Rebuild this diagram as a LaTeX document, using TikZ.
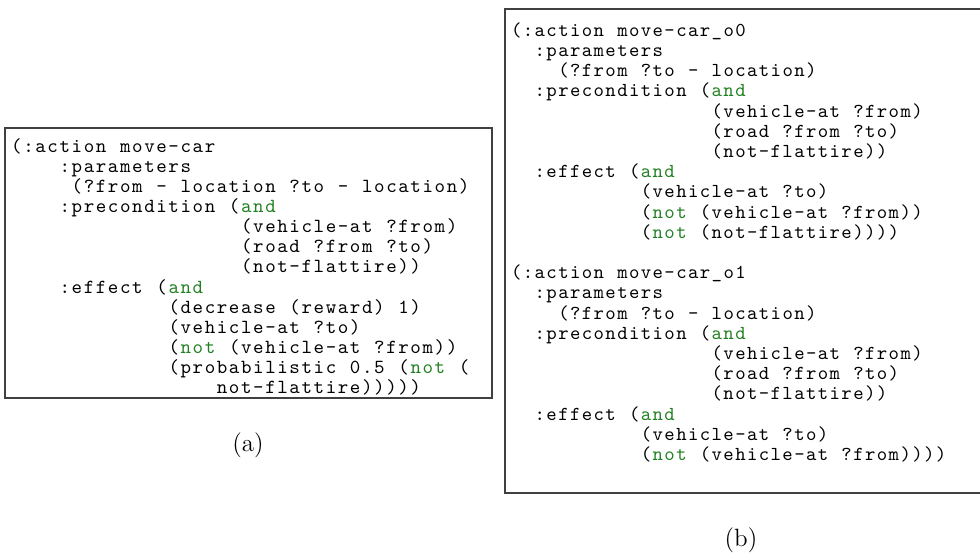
\documentclass[tikz,border=0pt]{standalone}
\usepackage{fontspec}
\usepackage{xcolor}
\definecolor{kwgreen}{rgb}{0.13,0.50,0.13}
\definecolor{framegray}{gray}{0.25}
\ExplSyntaxOn
\dim_new:N \l_cellw_dim
\NewDocumentCommand \setcell { m } { \dim_set:Nn \l_cellw_dim {#1} }
\NewDocumentCommand \cc { m } { \str_map_inline:nn {#1} { \makebox[\l_cellw_dim]{##1} } }
\ExplSyntaxOff
\newcommand\kw[1]{\textcolor{kwgreen}{\cc{#1}}}
% (a) listing: origin x=10, pitch 12.1, first line y=148, line step 20.1
\newcommand\La[4]{\node[codeA] (#1) at ({10+#2*12.1},{148+#3*20.1}) {#4};}
% (b) listing: origin x=510, pitch 11.8, first line y=32, line step 20.2
\newcommand\Lb[4]{\node[codeB] (#1) at ({510+#2*11.8},{32+#3*20.2}) {#4};}
\begin{document}
\begin{tikzpicture}[x=0.5pt,y=-0.5pt,
  codeA/.style={anchor=mid west, inner sep=0pt, text=black,
    font=\ttfamily\fontsize{10}{12}\selectfont\addfontfeatures{FakeBold=1.2}\setcell{6.05pt}},
  codeB/.style={anchor=mid west, inner sep=0pt, text=black,
    font=\ttfamily\fontsize{9.9}{12}\selectfont\addfontfeatures{FakeBold=1.2}\setcell{5.9pt}},
  frame/.style={draw=framegray, line width=0.6pt},
  caption/.style={inner sep=0pt, font=\fontsize{12.5}{15}\selectfont}]
\useasboundingbox (0,0) rectangle (980,553);
% frames
\draw[frame] (5,128) rectangle (492,398);
\draw[frame] (505,9) rectangle (995,493);
% (a)
\La{a0}{0}{0}{\cc{(:action move-car}}
\La{a1}{4}{1}{\cc{:parameters}}
\La{a2}{5}{2}{\cc{(?from - location ?to - location)}}
\La{a3}{4}{3}{\cc{:precondition (}\kw{and}}
\La{a4}{19}{4}{\cc{(vehicle-at ?from)}}
\La{a5}{19}{5}{\cc{(road ?from ?to)}}
\La{a6}{19}{6}{\cc{(not-flattire))}}
\La{a7}{4}{7}{\cc{:effect (}\kw{and}}
\La{a8}{13}{8}{\cc{(decrease (reward) 1)}}
\La{a9}{13}{9}{\cc{(vehicle-at ?to)}}
\La{a10}{13}{10}{\cc{(}\kw{not}\cc{ (vehicle-at ?from))}}
\La{a11}{13}{11}{\cc{(probabilistic 0.5 (}\kw{not}\cc{ (}}
\La{a12}{17}{12}{\cc{not-flattire)))))}}
% (b)
\Lb{b0}{0}{0}{\cc{(:action move-car_o0}}
\Lb{b1}{2}{1}{\cc{:parameters}}
\Lb{b2}{4}{2}{\cc{(?from ?to - location)}}
\Lb{b3}{2}{3}{\cc{:precondition (}\kw{and}}
\Lb{b4}{17}{4}{\cc{(vehicle-at ?from)}}
\Lb{b5}{17}{5}{\cc{(road ?from ?to)}}
\Lb{b6}{17}{6}{\cc{(not-flattire))}}
\Lb{b7}{2}{7}{\cc{:effect (}\kw{and}}
\Lb{b8}{11}{8}{\cc{(vehicle-at ?to)}}
\Lb{b9}{11}{9}{\cc{(}\kw{not}\cc{ (vehicle-at ?from))}}
\Lb{b10}{11}{10}{\cc{(}\kw{not}\cc{ (not-flattire))))}}
\Lb{b12}{0}{12}{\cc{(:action move-car_o1}}
\Lb{b13}{2}{13}{\cc{:parameters}}
\Lb{b14}{4}{14}{\cc{(?from ?to - location)}}
\Lb{b15}{2}{15}{\cc{:precondition (}\kw{and}}
\Lb{b16}{17}{16}{\cc{(vehicle-at ?from)}}
\Lb{b17}{17}{17}{\cc{(road ?from ?to)}}
\Lb{b18}{17}{18}{\cc{(not-flattire))}}
\Lb{b19}{2}{19}{\cc{:effect (}\kw{and}}
\Lb{b20}{11}{20}{\cc{(vehicle-at ?to)}}
\Lb{b21}{11}{21}{\cc{(}\kw{not}\cc{ (vehicle-at ?from))))}}
% captions
\node[caption] (capa) at (248,445) {(a)};
\node[caption] (capb) at (741,540) {(b)};
\end{tikzpicture}
\end{document}
